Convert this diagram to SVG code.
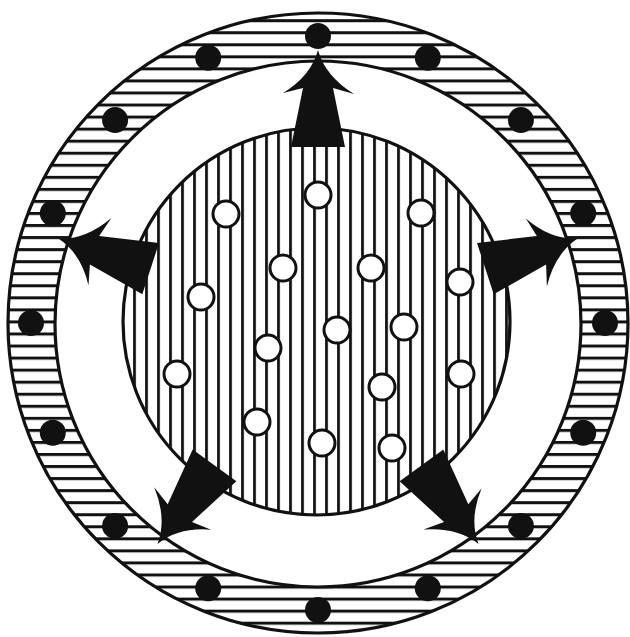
<svg xmlns="http://www.w3.org/2000/svg" xmlns:xlink="http://www.w3.org/1999/xlink" width="630" height="637" viewBox="0 0 630 637">
  <style>
    .outline { fill: none; stroke: #111; stroke-width: 3.2; }
    .dot { fill: #111; }
    .pore { fill: #fff; stroke: #111; stroke-width: 3; }
    .arrow { fill: #111; }
  </style>
  <defs>
    <pattern id="hlines" patternUnits="userSpaceOnUse" x="0" y="7.15" width="20" height="12.05">
      <rect x="0" y="0" width="20" height="3" fill="#111"/>
    </pattern>
    <pattern id="vlines" patternUnits="userSpaceOnUse" x="1.1" y="0" width="12" height="20">
      <rect x="0" y="0" width="2.8" height="20" fill="#111"/>
    </pattern>
    <path id="arrowShape" d="M0 0 Q7 26 36 44 L15 38 L27 97 L-27 97 L-15 38 L-35 43 Q-7 26 0 0 Z"/>
  </defs>
  <rect width="630" height="637" fill="#fff"/>

  <g id="ring">
    <path d="M318 13 A310 310 0 1 1 317.99 13 Z M318 61 A263 263 0 1 0 318.01 61 Z" fill="url(#hlines)" fill-rule="evenodd"/>
    <circle class="outline" cx="318" cy="323" r="310"/>
    <circle class="outline" cx="318" cy="324" r="263"/>
  </g>

  <g id="ring-dots">
    <circle class="dot" cx="318" cy="36" r="13"/>
    <circle class="dot" cx="427.8" cy="57.8" r="13"/>
    <circle class="dot" cx="520.9" cy="120.1" r="13"/>
    <circle class="dot" cx="583.2" cy="213.2" r="13"/>
    <circle class="dot" cx="605" cy="323" r="13"/>
    <circle class="dot" cx="583.2" cy="432.8" r="13"/>
    <circle class="dot" cx="520.9" cy="525.9" r="13"/>
    <circle class="dot" cx="427.8" cy="588.2" r="13"/>
    <circle class="dot" cx="318" cy="610" r="13"/>
    <circle class="dot" cx="208.2" cy="588.2" r="13"/>
    <circle class="dot" cx="115.1" cy="525.9" r="13"/>
    <circle class="dot" cx="52.8" cy="432.8" r="13"/>
    <circle class="dot" cx="31" cy="323" r="13"/>
    <circle class="dot" cx="52.8" cy="213.2" r="13"/>
    <circle class="dot" cx="115.1" cy="120.1" r="13"/>
    <circle class="dot" cx="208.2" cy="57.8" r="13"/>
  </g>

  <g id="core">
    <circle cx="316.5" cy="321.5" r="193.5" fill="url(#vlines)"/>
    <circle class="outline" cx="316.5" cy="321.5" r="193.5"/>
    <circle class="pore" cx="318" cy="195" r="13"/>
    <circle class="pore" cx="226" cy="214" r="13"/>
    <circle class="pore" cx="421" cy="213" r="13"/>
    <circle class="pore" cx="283" cy="268" r="13"/>
    <circle class="pore" cx="371" cy="268" r="13"/>
    <circle class="pore" cx="460" cy="282" r="13"/>
    <circle class="pore" cx="201" cy="297" r="13"/>
    <circle class="pore" cx="337" cy="330" r="13"/>
    <circle class="pore" cx="404" cy="327" r="13"/>
    <circle class="pore" cx="268" cy="348" r="13"/>
    <circle class="pore" cx="177" cy="374" r="13"/>
    <circle class="pore" cx="382" cy="387" r="13"/>
    <circle class="pore" cx="461" cy="374" r="13"/>
    <circle class="pore" cx="257" cy="422" r="13"/>
    <circle class="pore" cx="322" cy="443" r="13"/>
    <circle class="pore" cx="392" cy="448" r="13"/>
  </g>

  <g id="connectors">
    <use class="arrow" xlink:href="#arrowShape" href="#arrowShape" transform="translate(318 50)"/>
    <use class="arrow" xlink:href="#arrowShape" href="#arrowShape" transform="translate(577.6 238.6) rotate(72)"/>
    <use class="arrow" xlink:href="#arrowShape" href="#arrowShape" transform="translate(478.5 543.9) rotate(144)"/>
    <use class="arrow" xlink:href="#arrowShape" href="#arrowShape" transform="translate(157.5 543.9) rotate(216)"/>
    <use class="arrow" xlink:href="#arrowShape" href="#arrowShape" transform="translate(58.4 238.6) rotate(288)"/>
  </g>
</svg>
